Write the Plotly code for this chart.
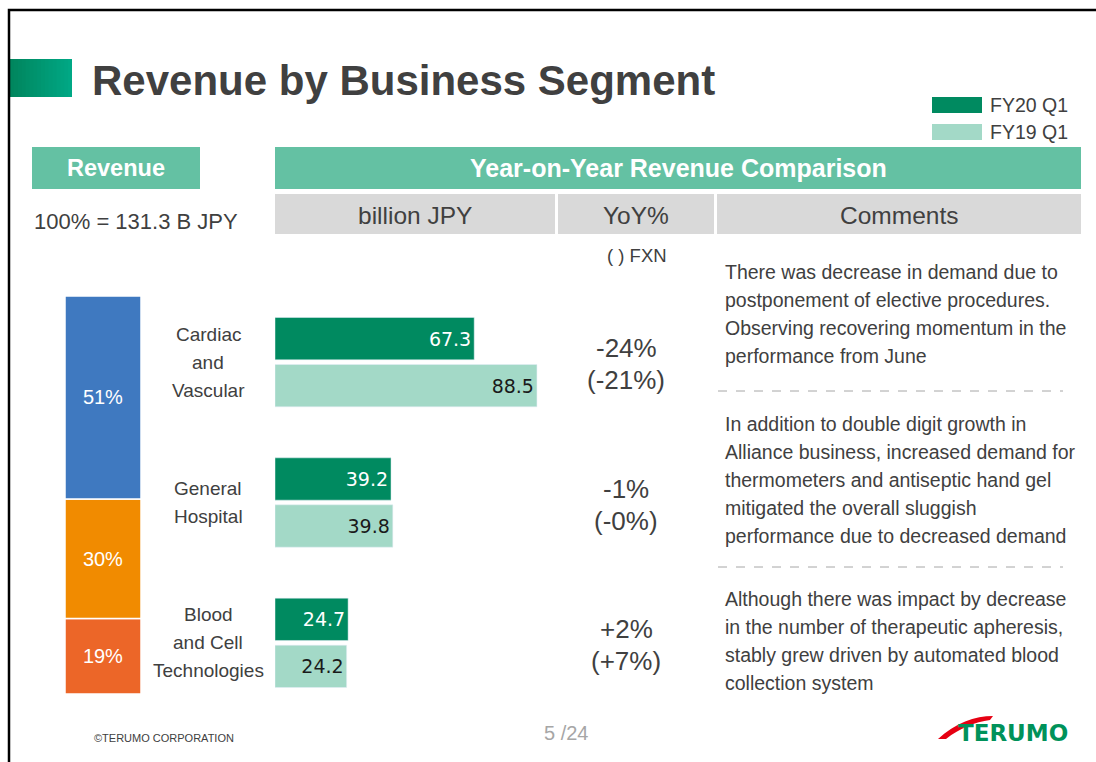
import plotly.graph_objects as go

W, H = 1096, 762

# data
segments = ["Cardiac and Vascular", "General Hospital", "Blood and Cell Technologies"]
segment_labels = [["Cardiac", "and", "Vascular"], ["General", "Hospital"], ["Blood", "and Cell", "Technologies"]]
share_pct = [51, 30, 19]
share_colors = ["#3F79C0", "#F18B00", "#EC6628"]
fy20_q1 = [67.3, 39.2, 24.7]
fy19_q1 = [88.5, 39.8, 24.2]
yoy = ["-24%", "-1%", "+2%"]
yoy_fxn = ["(-21%)", "(-0%)", "(+7%)"]
total_label = "100% = 131.3 B JPY"
comments = [
    ["There was decrease in demand due to",
     "postponement of elective procedures.",
     "Observing recovering momentum in the",
     "performance from June"],
    ["In addition to double digit growth in",
     "Alliance business, increased demand for",
     "thermometers and antiseptic hand gel",
     "mitigated the overall sluggish",
     "performance due to decreased demand"],
    ["Although there was impact by decrease",
     "in the number of therapeutic apheresis,",
     "stably grew driven by automated blood",
     "collection system"],
]

DARK = "#008A60"
LIGHT = "#A3D9C7"
HEAD = "#64C1A3"
GRAY = "#D9D9D9"
TXT = "#404040"
SANS = "Liberation Sans, Arial, sans-serif"


def px(x):
    return x / W


def py(y):
    return 1 - y / H


def rect(x0, y0, x1, y1, color, line=None):
    return dict(type="rect", xref="paper", yref="paper",
                x0=px(x0), x1=px(x1), y0=py(y1), y1=py(y0),
                fillcolor=color, line=line or dict(width=0), layer="below")


def label(x, y, text, size, color=TXT, anchor="center", bold=False, family=SANS):
    if bold:
        text = "<b>" + text + "</b>"
    return dict(xref="paper", yref="paper", x=px(x), y=py(y), text=text,
                showarrow=False, xanchor=anchor, yanchor="middle",
                font=dict(size=size, color=color, family=family))


fig = go.Figure()

# revenue share bar (stacked via base)
order = list(range(len(share_pct)))[::-1]
bases = []
acc = 0
for i in order:
    bases.append(acc)
    acc += share_pct[i]
fig.add_trace(go.Bar(
    x=["Revenue"] * len(order),
    y=[share_pct[i] for i in order],
    base=bases,
    width=1,
    marker=dict(color=[share_colors[i] for i in order], line=dict(color="white", width=1.5)),
    text=[f"{share_pct[i]}%" for i in order],
    textposition="inside",
    insidetextanchor="middle",
    textfont=dict(color="white", size=20, family=SANS),
    xaxis="x2", yaxis="y2",
    hoverinfo="skip",
))

# year-on-year bars
fig.add_trace(go.Bar(
    y=segments, x=fy20_q1, orientation="h", name="FY20 Q1",
    marker=dict(color=DARK),
    text=[f"{v:.1f}" for v in fy20_q1],
    textposition="inside", insidetextanchor="end",
    textfont=dict(color="white", size=19, family="DejaVu Sans"),
    cliponaxis=False,
))
fig.add_trace(go.Bar(
    y=segments, x=fy19_q1, orientation="h", name="FY19 Q1",
    marker=dict(color=LIGHT),
    text=[f"{v:.1f}" for v in fy19_q1],
    textposition="inside", insidetextanchor="end",
    textfont=dict(color="#1A1A1A", size=19, family="DejaVu Sans"),
    cliponaxis=False,
))

shapes = []
# slide frame
shapes.append(dict(type="rect", xref="paper", yref="paper",
                   x0=px(9), x1=px(1120), y0=py(790), y1=py(10),
                   line=dict(color="black", width=2.5), layer="above"))
# title accent with gradient
steps = 16
for k in range(steps):
    t = k / (steps - 1)
    g = int(0x86 + (0xA8 - 0x86) * t)
    b = int(0x5E + (0x85 - 0x5E) * t)
    x0 = 10 + 62 * k / steps
    x1 = min(72, 10 + 62 * (k + 1) / steps + 2)
    shapes.append(rect(x0, 59, x1, 97, f"rgb(0,{g},{b})"))
# legend swatches
shapes.append(rect(932, 97, 982, 113, DARK))
shapes.append(rect(932, 124, 982, 140, LIGHT))
# header boxes
shapes.append(rect(32, 147, 200, 189, HEAD))
shapes.append(rect(275, 147, 1081, 189, HEAD))
shapes.append(rect(275, 194, 555, 234, GRAY))
shapes.append(rect(558, 194, 714, 234, GRAY))
shapes.append(rect(717, 194, 1081, 234, GRAY))
# dashed separators
for yy in (391, 567):
    shapes.append(dict(type="line", xref="paper", yref="paper",
                       x0=px(718), x1=px(1063), y0=py(yy), y1=py(yy),
                       line=dict(color="#A6A6A6", width=1, dash="dash")))
# logo swoosh
sx = [938, 955, 975, 993, 990, 975, 960, 946]
sy = [739, 723, 716, 716, 720, 722, 728, 739]
path = (f"M {px(sx[0])},{py(sy[0])} C {px(sx[1])},{py(sy[1])} {px(sx[2])},{py(sy[2])} {px(sx[3])},{py(sy[3])} "
        f"L {px(sx[4])},{py(sy[4])} C {px(sx[5])},{py(sy[5])} {px(sx[6])},{py(sy[6])} {px(sx[7])},{py(sy[7])} Z")
shapes.append(dict(type="path", xref="paper", yref="paper", path=path,
                   fillcolor="#E60012", line=dict(width=0)))

ann = []
ann.append(label(90, 80, "Revenue by Business Segment", 42, color="#404040", anchor="left", bold=True))
ann.append(label(988, 105, "FY20 Q1", 19.5, anchor="left"))
ann.append(label(988, 132, "FY19 Q1", 19.5, anchor="left"))
ann.append(label(116, 168, "Revenue", 23.5, color="white", bold=True))
ann.append(label(678, 168, "Year-on-Year Revenue Comparison", 25, color="white", bold=True))
ann.append(label(415, 215, "billion JPY", 24.5))
ann.append(label(636, 215, "YoY%", 24.5))
ann.append(label(899, 215, "Comments", 24.5))
ann.append(label(32, 222, total_label, 22, anchor="left"))
ann.append(label(637, 255, "( ) FXN", 18.5))

# segment names and YoY figures, placed on the category axis
for seg, lines, a, b in zip(segments, segment_labels, yoy, yoy_fxn):
    n = len(lines)
    for i, line in enumerate(lines):
        ann.append(dict(xref="paper", yref="y", x=px(208), y=seg, text=line,
                        yshift=((n - 1) / 2 - i) * 28, showarrow=False,
                        xanchor="center", yanchor="middle",
                        font=dict(size=19, color=TXT, family=SANS)))
    ann.append(dict(xref="paper", yref="y", x=px(626), y=seg, text=a, yshift=14,
                    showarrow=False, xanchor="center", yanchor="middle",
                    font=dict(size=26, color=TXT, family=SANS)))
    ann.append(dict(xref="paper", yref="y", x=px(626), y=seg, text=b, yshift=-18,
                    showarrow=False, xanchor="center", yanchor="middle",
                    font=dict(size=26, color=TXT, family=SANS)))

# comments
first_line_y = [272, 424, 599]
for lines, y0 in zip(comments, first_line_y):
    for i, line in enumerate(lines):
        ann.append(label(723, y0 + 28 * i, line, 19.5, anchor="left"))

# footer
ann.append(label(92, 738, "©TERUMO CORPORATION", 11, anchor="left"))
ann.append(label(566, 733, "5 /24", 20, color="#A6A6A6"))
ann.append(label(1013, 733, "TERUMO", 23, color="#00925A", bold=True, family="DejaVu Sans"))

fig.update_layout(
    width=W, height=H,
    margin=dict(l=0, r=0, t=0, b=0),
    paper_bgcolor="white", plot_bgcolor="white",
    showlegend=False,
    barmode="group", bargap=0.33, bargroupgap=0.1,
    xaxis=dict(domain=[px(275), px(555)], range=[0, 94.6], visible=False, fixedrange=True),
    yaxis=dict(domain=[py(713), py(292)], type="category", categoryarray=segments,
               range=[2.5, -0.5], visible=False, fixedrange=True),
    xaxis2=dict(domain=[px(65), px(141)], range=[-0.5, 0.5], anchor="y2", visible=False),
    yaxis2=dict(domain=[py(694), py(296)], range=[0, 100], anchor="x2", visible=False),
    shapes=shapes,
    annotations=ann,
    font=dict(family=SANS, color=TXT),
)

# the slide fills the window edge to edge
fig.write_html("out.html", config={"displayModeBar": False},
               post_script="document.body.style.margin='0px';")
